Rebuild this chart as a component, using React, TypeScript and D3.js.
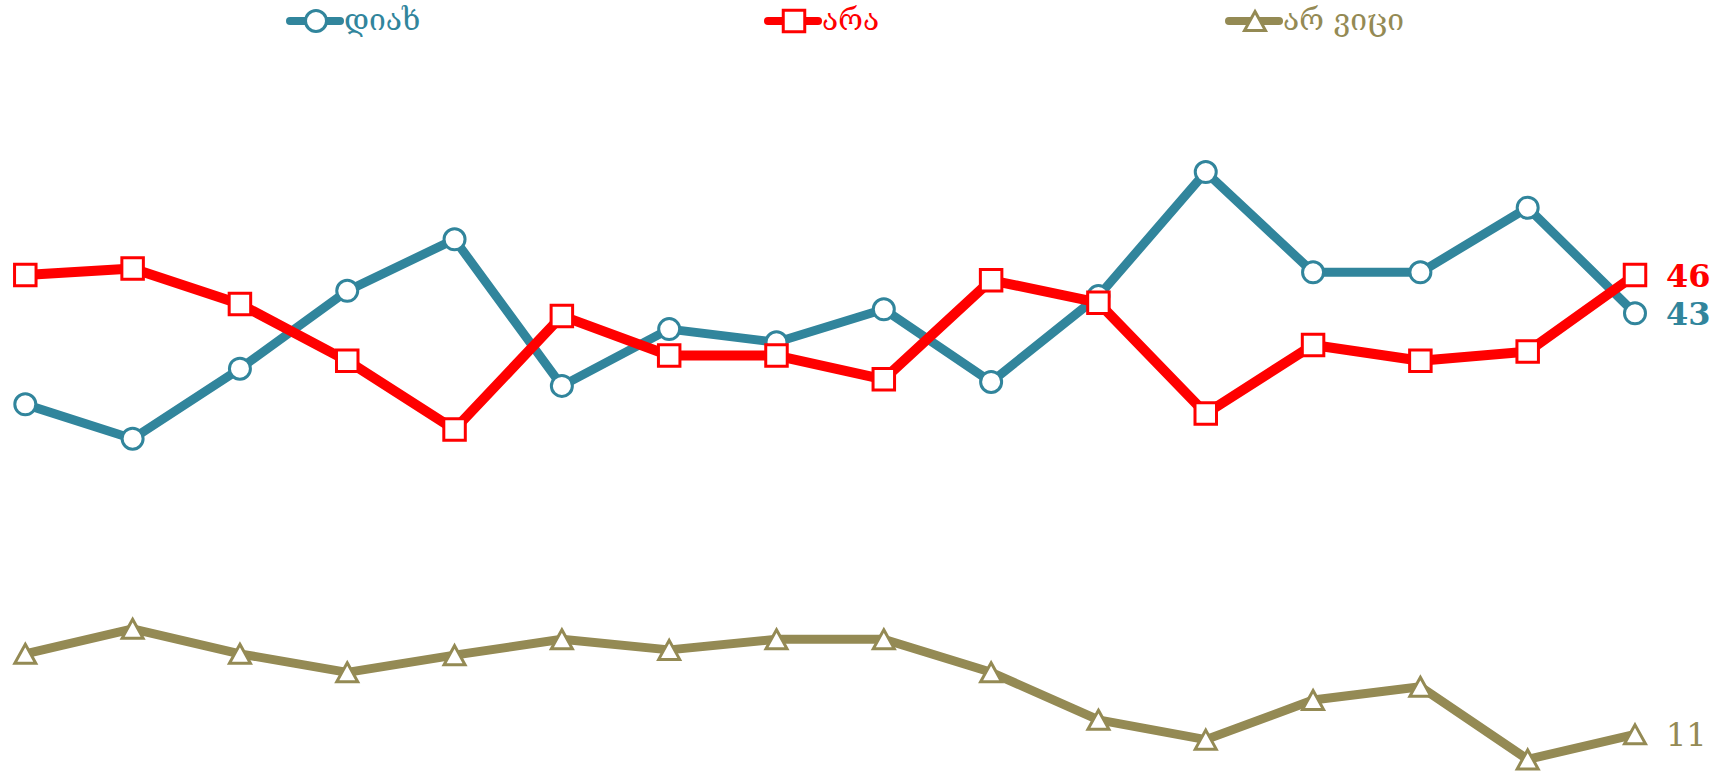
import React from "react";
import * as d3 from "d3";

const waves = ["1", "2", "3", "4", "5", "6", "7", "8", "9", "10", "11", "12", "13", "14", "15", "16"];
const yesValues = [36.2, 33.6, 38.9, 44.8, 48.7, 37.6, 41.9, 40.9, 43.4, 37.9, 44.4, 53.8, 46.2, 46.2, 51.1, 43.1];
const noValues = [46.0, 46.5, 43.8, 39.5, 34.3, 42.9, 39.9, 39.9, 38.1, 45.6, 43.9, 35.5, 40.7, 39.5, 40.2, 46.0];
const dkValues = [17.3, 19.2, 17.3, 15.9, 17.2, 18.4, 17.6, 18.4, 18.4, 15.9, 12.3, 10.8, 13.8, 14.8, 9.3, 11.2];
const seriesNames = ["დიახ", "არა", "არ ვიცი"];
const endLabels = ["43", "46", "11"];

const W = 1730;
const H = 775;

const BLUE = "#31859C";
const RED = "#FF0000";
const OLIVE = "#948A54";

const x = d3.scalePoint<string>().domain(waves).range([25.3, 1635]);
const y = d3.scaleLinear().domain([0, 60]).range([882.2, 90.2]);

const lineGen = d3
  .line<number>()
  .x((_, i) => x(waves[i]) as number)
  .y((d) => y(d));

const circlePath = d3.symbol(d3.symbolCircle, Math.PI * 10.5 * 10.5)() as string;
const squarePath = d3.symbol(d3.symbolSquare, 21.5 * 21.5)() as string;
const triPath = (() => {
  const p = d3.path();
  const s = 21;
  const h = 19;
  p.moveTo(0, -h / 2);
  p.lineTo(s / 2, h / 2);
  p.lineTo(-s / 2, h / 2);
  p.closePath();
  return p.toString();
})();

type Series = {
  name: string;
  values: number[];
  color: string;
  width: number;
  marker: string;
  label: string;
  bold: boolean;
  legendX: number;
};

const series: Series[] = [
  { name: seriesNames[0], values: yesValues, color: BLUE, width: 9, marker: circlePath, label: endLabels[0], bold: true, legendX: 290 },
  { name: seriesNames[1], values: noValues, color: RED, width: 10, marker: squarePath, label: endLabels[1], bold: true, legendX: 768 },
  { name: seriesNames[2], values: dkValues, color: OLIVE, width: 9, marker: triPath, label: endLabels[2], bold: false, legendX: 1229 },
];

export default function App() {
  return (
    <svg
      width={W}
      height={H}
      style={{ position: "absolute", left: 0, top: 0, background: "#fff" }}
      fontFamily="'DejaVu Serif', serif"
    >
      {series.map((s) => {
        const last = s.values.length - 1;
        return (
          <g key={s.name}>
            <path d={lineGen(s.values) as string} fill="none" stroke={s.color} strokeWidth={s.width} strokeLinejoin="round" />
            {s.values.map((v, i) => (
              <path
                key={i}
                d={s.marker}
                transform={`translate(${x(waves[i])},${y(v)})`}
                fill="#fff"
                stroke={s.color}
                strokeWidth={3}
              />
            ))}
            <text
              x={(x(waves[last]) as number) + 31}
              y={y(s.values[last])}
              dy="0.36em"
              fill={s.color}
              fontSize={32}
              fontWeight={s.bold ? 700 : 400}
            >
              {s.label}
            </text>
          </g>
        );
      })}
      {series.map((s) => (
        <g key={"lg" + s.name} transform={`translate(${s.legendX},21)`}>
          <line x1={0} x2={50} y1={0} y2={0} stroke={s.color} strokeWidth={8} strokeLinecap="round" />
          <path d={s.marker} transform="translate(26,0)" fill="#fff" stroke={s.color} strokeWidth={3} />
          <text x={54} y={0} dy="0.3em" fill={s.color} fontSize={30}>
            {s.name}
          </text>
        </g>
      ))}
    </svg>
  );
}
